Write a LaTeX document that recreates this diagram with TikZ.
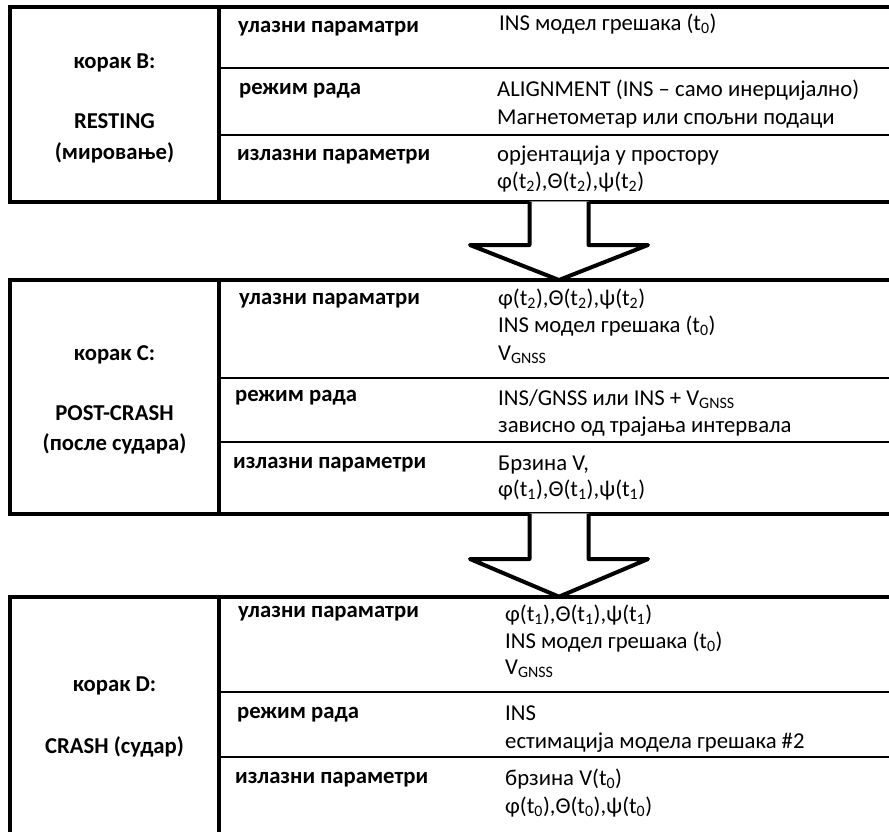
\documentclass[tikz,border=0pt]{standalone}
\usepackage{fontspec}
\setmainfont{Carlito}
\begin{document}
\begin{tikzpicture}[x=1pt,y=-1pt,
  frame/.style={line width=4pt},
  rowline/.style={line width=2pt},
  arrowshape/.style={line width=4pt,line join=round,fill=white},
  lab/.style={font=\fontsize{22.7}{27}\selectfont\bfseries,anchor=base west,inner sep=0pt},
  val/.style={font=\fontsize{22.7}{27}\selectfont,anchor=base west,inner sep=0pt},
  stage/.style={font=\fontsize{22.7}{27}\selectfont\bfseries,anchor=base,inner sep=0pt}]
\useasboundingbox (0,0) rectangle (889,831);
\clip (0,0) rectangle (889,831);
\fill[white] (0,0) rectangle (889,831);

% ---------- box B ----------
\draw[rowline] (219,68.3) -- (900,68.3);
\draw[rowline] (219,135) -- (900,135);
\draw[frame] (10,7) rectangle (900,201.5);
\draw[frame] (219,7) -- (219,201.5);
\node[stage] (b1a) at (114.5,68.3) {корак B:};
\node[stage] (b1b) at (114.5,128.3) {RESTING};
\node[stage] (b1c) at (114.5,159) {(мировање)};
\node[lab] (b1l1) at (238,32) {улазни параматри};
\node[lab] (b1l2) at (239,94.5) {режим рада};
\node[lab] (b1l3) at (237,160) {излазни параметри};
\node[val] (b1v1) at (499,30.5) {INS модел грешака (t\textsubscript{0})};
\node[val] (b1v2) at (497,96.7) {ALIGNMENT (INS – само инерцијално)};
\node[val] (b1v3) at (497,124) {Магнетометар или спољни подаци};
\node[val] (b1v4) at (497,161.7) {орјентација у простору};
\node[val] (b1v5) at (497,188.3) {φ(t\textsubscript{2}),Θ(t\textsubscript{2}),ψ(t\textsubscript{2})};

% ---------- box C ----------
\draw[rowline] (219,377.7) -- (900,377.7);
\draw[rowline] (219,441.7) -- (900,441.7);
\draw[frame] (10,280) rectangle (900,513.5);
\draw[frame] (219,280) -- (219,513.5);
\node[stage] (b2a) at (114.5,360) {корак C:};
\node[stage] (b2b) at (114.5,420) {POST-CRASH};
\node[stage] (b2c) at (114.5,450) {(после судара)};
\node[lab] (b2l1) at (239,304) {улазни параматри};
\node[lab] (b2l2) at (235,401.7) {режим рада};
\node[lab] (b2l3) at (233,468.3) {излазни параметри};
\node[val] (b2v1) at (498,305.5) {φ(t\textsubscript{2}),Θ(t\textsubscript{2}),ψ(t\textsubscript{2})};
\node[val] (b2v2) at (498,332.5) {INS модел грешака (t\textsubscript{0})};
\node[val] (b2v3) at (498,360.5) {V\textsubscript{GNSS}};
\node[val] (b2v4) at (498,405) {INS/GNSS или INS + V\textsubscript{GNSS}};
\node[val] (b2v5) at (498,432.3) {зависно од трајања интервала};
\node[val] (b2v6) at (498,470) {Брзина V,};
\node[val] (b2v7) at (498,496.7) {φ(t\textsubscript{1}),Θ(t\textsubscript{1}),ψ(t\textsubscript{1})};

% ---------- box D ----------
\draw[rowline] (219,692) -- (900,692);
\draw[rowline] (219,756.7) -- (900,756.7);
\draw[frame] (10,596.7) rectangle (900,900);
\draw[frame] (219,596.7) -- (219,900);
\node[stage] (b3a) at (114.5,691.7) {корак D:};
\node[stage] (b3b) at (114.5,753.3) {CRASH (судар)};
\node[lab] (b3l1) at (238,617.3) {улазни параматри};
\node[lab] (b3l2) at (237,718.3) {режим рада};
\node[lab] (b3l3) at (235,783.3) {излазни параметри};
\node[val] (b3v1) at (505,621.7) {φ(t\textsubscript{1}),Θ(t\textsubscript{1}),ψ(t\textsubscript{1})};
\node[val] (b3v2) at (505,648.3) {INS модел грешака (t\textsubscript{0})};
\node[val] (b3v3) at (505,674) {V\textsubscript{GNSS}};
\node[val] (b3v4) at (505,720.7) {INS};
\node[val] (b3v5) at (505,748.3) {естимација модела грешака \#2};
\node[val] (b3v6) at (505,785) {брзина V(t\textsubscript{0})};
\node[val] (b3v7) at (505,813.3) {φ(t\textsubscript{0}),Θ(t\textsubscript{0}),ψ(t\textsubscript{0})};

% ---------- arrows ----------
\coordinate (a1top) at (559,201.5);
\coordinate (a1tip) at (559,280);
\coordinate (a2top) at (559,513.5);
\coordinate (a2tip) at (559,596.7);
\fill[white] ([xshift=-29.5pt]a1top) -- ([xshift=-29.5pt,yshift=-43.5pt]a1top) -- ([xshift=-89pt,yshift=-43.5pt]a1top) -- (a1tip) -- ([xshift=89pt,yshift=-43.5pt]a1top) -- ([xshift=29.5pt,yshift=-43.5pt]a1top) -- ([xshift=29.5pt]a1top) -- cycle;
\draw[arrowshape] ([xshift=-29.5pt]a1top) -- ([xshift=-29.5pt,yshift=-43.5pt]a1top) -- ([xshift=-89pt,yshift=-43.5pt]a1top) -- (a1tip) -- ([xshift=89pt,yshift=-43.5pt]a1top) -- ([xshift=29.5pt,yshift=-43.5pt]a1top) -- ([xshift=29.5pt]a1top);
\fill[white] ([xshift=-29.5pt]a2top) -- ([xshift=-29.5pt,yshift=-45.5pt]a2top) -- ([xshift=-89pt,yshift=-45.5pt]a2top) -- (a2tip) -- ([xshift=89pt,yshift=-45.5pt]a2top) -- ([xshift=29.5pt,yshift=-45.5pt]a2top) -- ([xshift=29.5pt]a2top) -- cycle;
\draw[arrowshape] ([xshift=-29.5pt]a2top) -- ([xshift=-29.5pt,yshift=-45.5pt]a2top) -- ([xshift=-89pt,yshift=-45.5pt]a2top) -- (a2tip) -- ([xshift=89pt,yshift=-45.5pt]a2top) -- ([xshift=29.5pt,yshift=-45.5pt]a2top) -- ([xshift=29.5pt]a2top);
\end{tikzpicture}
\end{document}
